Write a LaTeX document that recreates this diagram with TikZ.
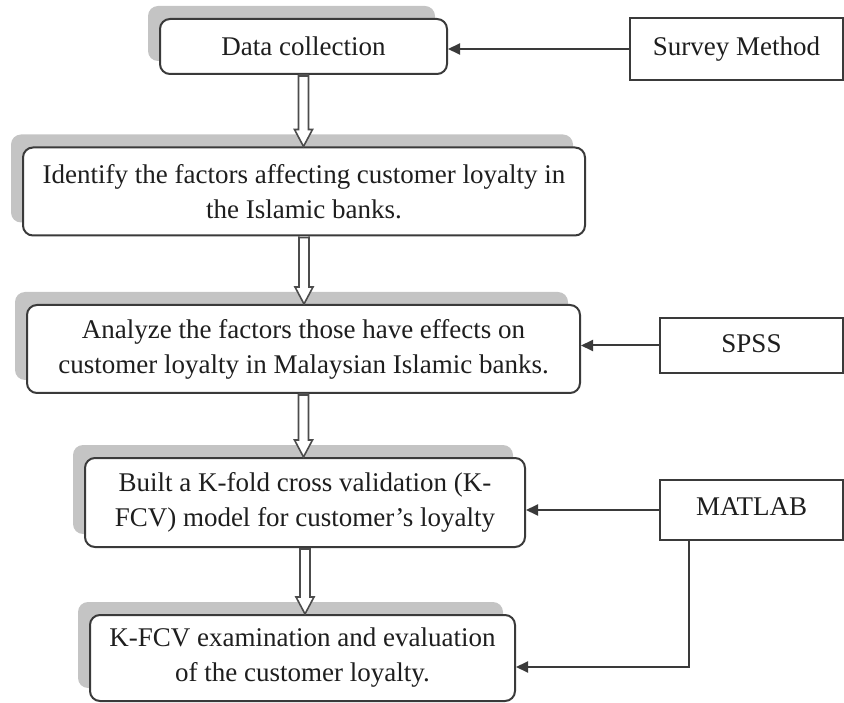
\documentclass[tikz,border=0pt]{standalone}
\usepackage{fontspec}
\setmainfont{Liberation Serif}
\usetikzlibrary{arrows.meta,shadows,calc}

\definecolor{edge}{HTML}{3A3A3A}
\definecolor{shade}{HTML}{C4C4C4}
\definecolor{ink}{HTML}{1E1E1E}

\tikzset{
  stepbox/.style={draw=edge, line width=2pt, rounded corners=10pt, fill=white,
    align=center, text=ink, font=\fontsize{27}{35}\selectfont, inner sep=0pt,
    drop shadow={shadow xshift=-12pt, shadow yshift=13pt, fill=shade, opacity=1}},
  toolbox/.style={draw=edge, line width=2pt, fill=white, align=center, text=ink,
    font=\fontsize{27}{35}\selectfont, inner sep=0pt},
  conn/.style={draw=edge, line width=2pt, -{Triangle[length=12pt,width=11pt]}},
  hollow/.style={draw=gray!60!black, line width=1.6pt, fill=white,
    to path={let \p1=(\tikztostart), \p2=(\tikztotarget) in
      (\x1-5pt,\y1) -- (\x1-5pt,\y2+17pt) -- (\x1-9pt,\y2+17pt) -- (\x1,\y2)
      -- (\x1+9pt,\y2+17pt) -- (\x1+5pt,\y2+17pt) -- (\x1+5pt,\y1)
      (\x1-5pt,\y1-1pt) -- (\x1+5pt,\y1-1pt)}}
}

\begin{document}
\begin{tikzpicture}[x=1pt, y=-1pt]
\useasboundingbox (0,0) rectangle (844,703);

% main process steps
\node[stepbox, minimum width=287pt, minimum height=55pt] (b1) at (303.5,46.5)
  {Data collection};
\node[stepbox, minimum width=562pt, minimum height=88pt] (b2) at (304,191.5)
  {Identify the factors affecting customer loyalty in\\the Islamic banks.};
\node[stepbox, minimum width=553pt, minimum height=88pt] (b3) at (303.5,349)
  {Analyze the factors those have effects on\\customer loyalty in Malaysian Islamic banks.};
\node[stepbox, minimum width=440pt, minimum height=89pt] (b4) at (305,502.5)
  {Built a K-fold cross validation (K-\\FCV) model for customer's loyalty};
\node[stepbox, minimum width=425pt, minimum height=86pt] (b5) at (302.5,658)
  {K-FCV examination and evaluation\\of the customer loyalty.};

% tools feeding the steps
\node[toolbox, minimum width=213pt, minimum height=62pt] (survey) at (736.5,49)
  {\raisebox{6pt}{Survey Method}};
\node[toolbox, minimum width=183pt, minimum height=55pt] (spss) at (751.5,345.5)
  {\raisebox{3pt}{SPSS}};
\node[toolbox, minimum width=183pt, minimum height=60pt] (matlab) at (751.5,510)
  {\raisebox{6pt}{MATLAB}};

% flow between steps
\draw[hollow] (b1.south) to (b2.north);
\draw[hollow] (b2.south) to (b3.north);
\draw[hollow] (b3.south) to (b4.north);
\draw[hollow] (b4.south) to (b5.north);

% tool connectors
\draw[conn] (survey.west) -- (survey.west -| b1.east);
\draw[conn] (spss.west) -- (spss.west -| b3.east);
\draw[conn] (matlab.west) -- (matlab.west -| b4.east);
\coordinate (turn) at (689,667);
\draw[conn] (turn |- matlab.south) -- (turn) -- (turn -| b5.east);
\end{tikzpicture}
\end{document}
